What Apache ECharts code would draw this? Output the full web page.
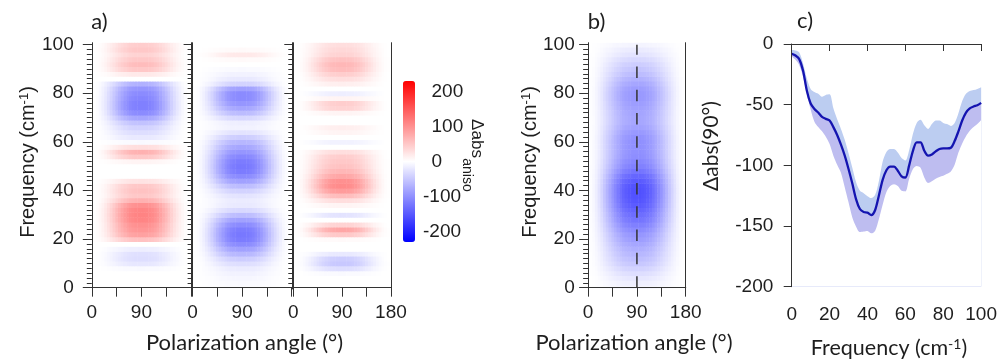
<!DOCTYPE html>
<html><head><meta charset="utf-8">
<script src="https://cdn.jsdelivr.net/npm/echarts@6/dist/echarts.min.js"></script>
<style>html,body{margin:0;padding:0;background:#fff}#c{width:1000px;height:359px}</style>
</head><body><div id="c"></div>
<script>
// ---------- data ----------
const FREQ = [0,2,4,6,8,10,12,14,16,18,20,22,24,26,28,30,32,34,36,38,40,42,44,46,48,50,52,54,56,58,60,62,64,66,68,70,72,74,76,78,80,82,84,86,88,90,92,94,96,98,100];
const ANGLES = [0,5,10,15,20,25,30,35,40,45,50,55,60,65,70,75,80,85,90,95,100,105,110,115,120,125,130,135,140,145,150,155,160,165,170,175,180];
// angular envelope (relative strength vs polarization angle)
const ANG_A = [0,0.01,0.03,0.07,0.13,0.2,0.28,0.37,0.47,0.57,0.66,0.75,0.83,0.89,0.94,0.97,0.99,1,1,1,0.99,0.97,0.94,0.89,0.83,0.75,0.66,0.57,0.47,0.37,0.28,0.2,0.13,0.07,0.03,0.01,0];
const ANG_B = [0,0.02,0.05,0.1,0.17,0.25,0.34,0.43,0.52,0.61,0.69,0.77,0.84,0.9,0.94,0.97,0.99,1,1,1,0.99,0.97,0.94,0.9,0.84,0.77,0.69,0.61,0.52,0.43,0.34,0.25,0.17,0.1,0.05,0.02,0];
// Δabs_aniso at 90° vs frequency for each map
const MAP_A1 = [0,0,0,0,-5,-22,-30,-28,-15,0,55,85,95,100,110,112,110,100,70,50,55,50,25,0,0,0,10,50,70,30,-5,-20,-30,-40,-55,-80,-105,-115,-115,-110,-105,-95,-70,0,20,50,60,50,40,50,45];
const MAP_A2 = [-3,-5,-8,-12,-18,-30,-45,-65,-85,-105,-118,-122,-118,-105,-85,-60,-35,-20,-18,-25,-40,-60,-85,-105,-118,-122,-118,-108,-95,-80,-65,-45,-25,-12,-15,-35,-60,-80,-95,-105,-105,-85,-40,-20,-12,-5,0,5,20,5,0];
const MAP_A3 = [0,0,0,-5,-30,-50,-45,-20,0,0,5,50,80,40,0,-25,0,10,30,60,90,105,100,80,65,55,50,45,30,0,-12,0,10,15,0,0,10,40,45,10,-15,0,15,30,45,60,65,55,40,35,30];
const MAP_B  = [-10,-15,-22,-30,-40,-50,-58,-65,-72,-80,-88,-95,-105,-115,-125,-132,-140,-148,-153,-156,-157,-155,-148,-138,-125,-115,-108,-102,-100,-100,-100,-98,-92,-85,-80,-80,-82,-85,-88,-92,-92,-88,-80,-70,-60,-52,-45,-35,-25,-18,-10];
// panel c: Δabs(90°) vs frequency with uncertainty band
const C_MEAN  = [-8,-9.5,-12.5,-22,-38.5,-49,-53.5,-56.5,-60,-61.7,-63,-68.5,-75,-83,-92,-103,-115,-128,-136,-138.5,-139,-141,-137,-125,-112,-104,-101,-101,-104.5,-109,-110,-100,-88,-81,-81,-88,-92,-91,-88.5,-86.5,-86,-86,-85.5,-80,-72,-63,-56.5,-53,-51.5,-50.5,-48.5];
const C_UPPER = [-5,-5.4,-7,-16,-28.5,-37,-39.5,-41,-43.5,-42,-41.5,-53,-62,-70,-79,-90,-102,-114,-121,-123,-125.5,-127,-124.5,-113,-97,-89,-86.5,-86.5,-89.5,-94,-96,-87.5,-74,-65,-62.5,-67,-70,-66,-63,-63,-65,-66,-67.5,-65,-57,-47,-41,-38.8,-38,-37,-35.7];
const C_LOWER = [-10.4,-13,-17.5,-27,-41.5,-54,-64,-68.5,-72,-76.5,-82.5,-92,-99.5,-106,-118,-130.5,-143,-150.5,-155,-154.5,-154,-156,-154,-144.5,-132.5,-122,-117,-115.5,-117,-121,-121.5,-111,-103,-100.5,-102,-110,-114.5,-113,-111,-109.5,-108.5,-107,-105,-99.5,-89.5,-82,-76,-71.5,-68.5,-66,-62.6];
// ticks
const X_TICKS = [0,45,90,135,180];
const X_LABELS_SHORT = [0,90];
const X_LABELS_FULL = [0,90,180];
const Y_MAJOR = [0,20,40,60,80,100];
const Y_MINOR = [0,2,4,6,8,10,12,14,16,18,20,22,24,26,28,30,32,34,36,38,40,42,44,46,48,50,52,54,56,58,60,62,64,66,68,70,72,74,76,78,80,82,84,86,88,90,92,94,96,98,100];
const CB_TICKS = [-200,-100,0,100,200];

// ---------- helpers ----------
const AX = '#333';
const TXT = '#1e1e1e';
const LBL = {fontFamily:'Liberation Sans', fontSize:19, color:TXT};

function heat(profile, ang){
  const d=[];
  for(let i=0;i<FREQ.length;i++) for(let j=0;j<ANGLES.length;j++) d.push([ANGLES[j], FREQ[i], profile[i]*ang[j]]);
  return d;
}
function renderCell(params, api){
  const a=api.value(0), f=api.value(1);
  const p0=api.coord([a-2.5, f+1]);
  const p1=api.coord([a+2.5, f-1]);
  return {type:'rect', shape:{x:p0[0], y:p0[1], width:p1[0]-p0[0]+0.5, height:p1[1]-p0[1]+0.5}, style:{fill:api.visual('color')}, silent:true};
}

const grid=[], xAxis=[], yAxis=[];
const YMIN=-0.55, YMAX=100.8;
function heatPanel(left,width,xmin,xmax,yLabels,yMargin,xLabels){
  const gi=grid.length;
  grid.push({left:left, top:42.7, width:width, height:246.3});
  xAxis.push({gridIndex:gi,type:'value',min:xmin,max:xmax,position:'bottom',z:5,
    axisLine:{show:true,lineStyle:{color:AX,width:1}},
    axisTick:{show:true,customValues:X_TICKS,length:9,lineStyle:{color:AX}},
    axisLabel:Object.assign({show:true,customValues:xLabels,margin:14},LBL),
    splitLine:{show:false}});
  xAxis.push({gridIndex:gi,type:'value',min:xmin,max:xmax,position:'top',z:5,
    axisLine:{show:true,lineStyle:{color:AX,width:1}},axisTick:{show:false},axisLabel:{show:false},splitLine:{show:false}});
  yAxis.push({gridIndex:gi,type:'value',min:YMIN,max:YMAX,position:'left',z:5,
    axisLine:{show:true,lineStyle:{color:AX,width:1}},
    axisTick:{show:true,customValues:Y_MAJOR,length:9,lineStyle:{color:AX}},
    axisLabel:Object.assign({show:yLabels,customValues:Y_MAJOR,margin:yMargin},LBL),
    splitLine:{show:false}});
  yAxis.push({gridIndex:gi,type:'value',min:YMIN,max:YMAX,position:'left',z:5,
    axisLine:{show:false},
    axisTick:{show:true,customValues:Y_MINOR,length:5,lineStyle:{color:AX}},
    axisLabel:{show:false},splitLine:{show:false}});
  yAxis.push({gridIndex:gi,type:'value',min:YMIN,max:YMAX,position:'right',z:5,
    axisLine:{show:true,lineStyle:{color:AX,width:1}},axisTick:{show:false},axisLabel:{show:false},splitLine:{show:false}});
  return gi;
}
heatPanel(90.7,100.8,-2,181,true,17,X_LABELS_SHORT);   // grid 0
heatPanel(191.5,100.7,-2,181,false,17,X_LABELS_SHORT); // grid 1
heatPanel(292.2,99.3,-2,181,false,17,X_LABELS_FULL);   // grid 2
heatPanel(585.7,100,-4.5,180,true,11,X_LABELS_FULL);   // grid 3

// colour bar axis (grid 4)
grid.push({left:403, top:81, width:12, height:161});
xAxis.push({gridIndex:4,type:'value',show:false,min:0,max:1});
yAxis.push({gridIndex:4,type:'value',min:-230,max:230,position:'right',
  axisLine:{show:false},
  axisTick:{show:true,customValues:CB_TICKS,length:8,lineStyle:{color:AX}},
  axisLabel:Object.assign({show:true,customValues:CB_TICKS,margin:8,
    formatter:function(v){return v<0?'{n|'+v+'}':'{p|'+v+'}';},
    rich:{n:{fontFamily:'Liberation Sans',fontSize:19,color:TXT},p:{fontFamily:'Liberation Sans',fontSize:19,color:TXT,padding:[0,0,0,8.5]}}},LBL),
  splitLine:{show:false}});

// panel c (grid 5)
grid.push({left:791.7, top:44, width:193.3, height:242.7});
xAxis.push({gridIndex:5,type:'value',min:0,max:100,interval:20,offset:1.6,z:5,
  axisLine:{show:true,lineStyle:{color:AX}},axisTick:{length:7,lineStyle:{color:AX}},
  axisLabel:Object.assign({margin:17},LBL),splitLine:{show:false}});
yAxis.push({gridIndex:5,type:'value',min:-200,max:0,interval:50,offset:3.4,z:5,
  axisLine:{show:true,lineStyle:{color:AX}},axisTick:{length:8,lineStyle:{color:AX}},
  axisLabel:Object.assign({margin:15},LBL),splitLine:{show:false}});

function bandSeries(vals,color){
  return {type:'line',xAxisIndex:9,yAxisIndex:13,data:FREQ.map((x,i)=>[x,vals[i]]),symbol:'none',smooth:0.3,
    lineStyle:{width:0,opacity:0},areaStyle:{color:color,opacity:1,origin:'start'},silent:true,z:2};
}
const series=[
  {type:'custom',coordinateSystem:'cartesian2d',xAxisIndex:0,yAxisIndex:0,clip:true,data:heat(MAP_A1,ANG_A),encode:{x:0,y:1},renderItem:renderCell,silent:true},
  {type:'custom',coordinateSystem:'cartesian2d',xAxisIndex:2,yAxisIndex:3,clip:true,data:heat(MAP_A2,ANG_A),encode:{x:0,y:1},renderItem:renderCell,silent:true},
  {type:'custom',coordinateSystem:'cartesian2d',xAxisIndex:4,yAxisIndex:6,clip:true,data:heat(MAP_A3,ANG_A),encode:{x:0,y:1},renderItem:renderCell,silent:true},
  {type:'custom',coordinateSystem:'cartesian2d',xAxisIndex:6,yAxisIndex:9,clip:true,data:heat(MAP_B,ANG_B),encode:{x:0,y:1},renderItem:renderCell,silent:true},
  {type:'line',xAxisIndex:6,yAxisIndex:9,data:[[90,0],[90,100]],symbol:'none',z:4,silent:true,
    lineStyle:{color:'#333',width:1.5,type:[11.5,11.8]}},
  bandSeries(C_UPPER,'#bccdf1'),
  bandSeries(C_MEAN,'#bebdf0'),
  bandSeries(C_LOWER,'#ffffff'),
  {type:'line',xAxisIndex:9,yAxisIndex:13,data:FREQ.map((x,i)=>[x,C_MEAN[i]]),symbol:'none',smooth:0.3,z:4,lineStyle:{color:'#1414b0',width:2.3},silent:true}
];

function txt(x,y,text,font,rot,rich){
  return {type:'text',x:x,y:y,rotation:rot||0,silent:true,z:10,
    style:{text:text,font:font,fill:TXT,align:'center',verticalAlign:'middle',textAlign:'center',textVerticalAlign:'middle',rich:rich||undefined}};
}
const SUP_AR={s:{fontSize:13,fontFamily:'Liberation Sans',fill:TXT,verticalAlign:'top'}};
const SUP_LA={s:{fontSize:14,fontFamily:'Lato',fill:TXT,verticalAlign:'top'}};
const graphic=[
  txt(99.5,22,'a)','22px Lato'),
  txt(596.5,22,'b)','22px Lato'),
  txt(805,21,'c)','22px Lato'),
  txt(244.5,343,'Polarization angle (°)','22px Lato'),
  txt(634,343,'Polarization angle (°)','22px Lato'),
  txt(28,162,'Frequency (cm{s|-1})','20px "Liberation Sans"',Math.PI/2,SUP_AR),
  txt(530,162,'Frequency (cm{s|-1})','20px "Liberation Sans"',Math.PI/2,SUP_AR),
  txt(711,146,'Δabs(90°)','21px Lato',Math.PI/2),
  txt(889,348,'Frequency (cm{s|-1})','21.5px Lato',0,SUP_LA),
  txt(476.7,138.5,'Δabs','17px "Liberation Sans"',-Math.PI/2),
  txt(466.6,175,'aniso','14px "Liberation Sans"',-Math.PI/2)
];

const chart=echarts.init(document.getElementById('c'),null,{renderer:'canvas'});
chart.setOption({
  animation:false,
  backgroundColor:'#fff',
  grid:grid, xAxis:xAxis, yAxis:yAxis,
  visualMap:[{type:'continuous',min:-230,max:230,dimension:2,seriesIndex:[0,1,2,3],
    inRange:{color:['#0000ff','#ffffff','#ff0000']},calculable:false,orient:'vertical',
    left:403,top:81,itemWidth:12,itemHeight:161,padding:0,text:null,showLabel:false}],
  series:series,
  graphic:graphic
});
</script></body></html>
